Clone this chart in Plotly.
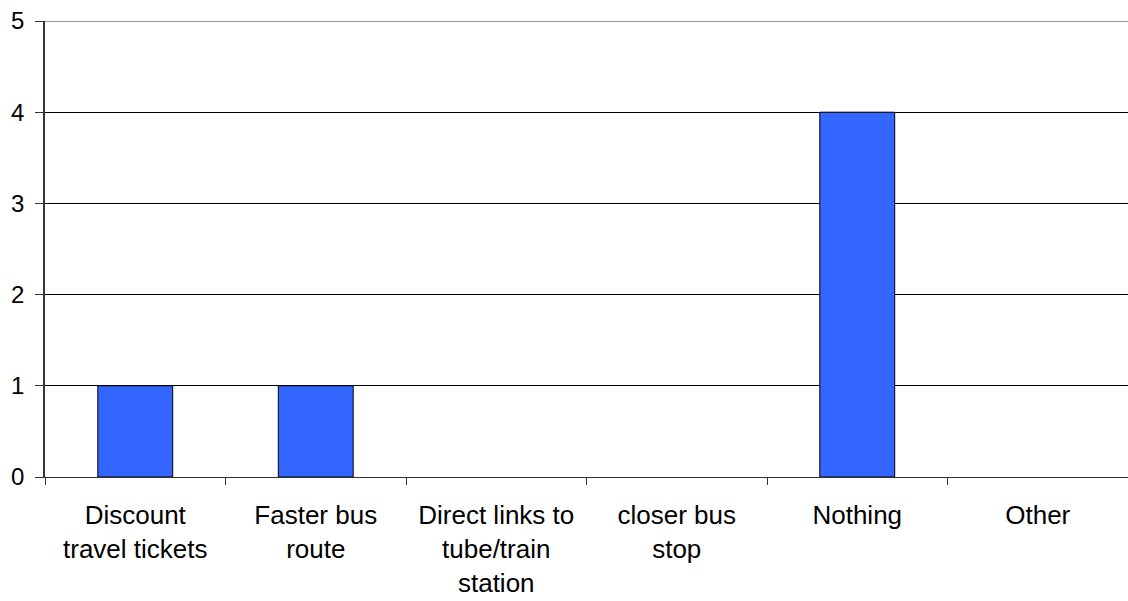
import plotly.graph_objects as go

categories = ["Discount<br>travel tickets", "Faster bus<br>route", "Direct links to<br>tube/train<br>station",
              "closer bus<br>stop", "Nothing", "Other"]
values = [1, 1, 0, 0, 4, 0]
y_ticks = [0, 1, 2, 3, 4, 5]

fig = go.Figure(go.Bar(
    x=categories, y=values,
    marker=dict(color="#3366FF",
                line=dict(color="black", width=[1 if v else 0 for v in values])),
))

fig.update_layout(
    width=1128, height=601,
    margin=dict(l=45, r=0, t=21, b=124),
    paper_bgcolor="white", plot_bgcolor="white",
    bargap=0.585,
    showlegend=False,
    font=dict(family="Liberation Sans, Arial, sans-serif", color="black"),
)
fig.update_xaxes(
    type="category", tickson="boundaries", ticks="outside", ticklen=7, tickcolor="#333",
    showline=True, linecolor="#333", linewidth=1,
    tickfont=dict(size=26), showgrid=False, automargin=False,
    ticklabelstandoff=15,
)
fig.update_yaxes(
    range=[0, 5], tickvals=y_ticks, ticks="outside", ticklen=8, tickcolor="#333",
    showline=True, linecolor="#333", linewidth=1.5,
    gridcolor="black", gridwidth=1, zeroline=False,
    tickfont=dict(size=24), automargin=False, ticklabelstandoff=6,
)
fig.add_shape(type="line", xref="paper", yref="y", x0=0, x1=1, y0=5, y1=5,
              line=dict(color="#999", width=2), layer="above")

fig.write_html("out.html", config={"displayModeBar": False},
               post_script="document.body.style.margin='0';document.body.style.overflow='hidden';")
